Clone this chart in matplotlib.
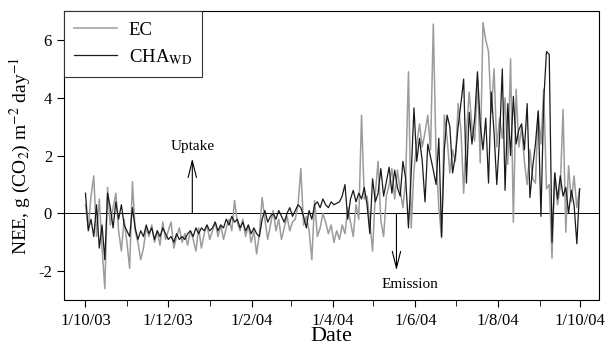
import numpy as np
import matplotlib
matplotlib.use("Agg")
import matplotlib.pyplot as plt
import matplotlib.dates as mdates
import datetime as dt

plt.rcParams['font.family'] = ['Liberation Serif', 'DejaVu Serif']
plt.rcParams['mathtext.fontset'] = 'stix'

start_date = "2003-10-01"
step_hours = 49

ec_oct = [0.3, -0.5, 0.6, 1.3, -0.8, 0.5, -1.2, -2.6, 0.9, -0.4, 0.2, 0.7, -0.6, -1.3, -0.2, -1.0]
ec_nov = [-1.9, 1.1, -0.6, -1.0, -1.6, -1.2, -0.5, -0.8, -0.4, -1.0, -0.6, -1.1, -0.3, -0.9, -0.6]
ec_dec = [-0.3, -1.2, -0.8, -0.5, -1.0, -0.7, -1.1, -0.6, -0.9, -1.3, -0.5, -1.2, -0.7, -0.4, -0.9]
ec_jan = [-0.6, -0.3, -0.8, -0.4, -0.9, -0.5, -0.2, -0.6, 0.45, -0.3, -0.6, -0.2, -0.8, -0.4, -1.0, -0.6]
ec_feb = [-1.4, -0.7, 0.55, -0.2, -0.9, -0.4, 0.1, -0.6, -0.2, -0.9, -0.5, -0.1, -0.6, -0.3]
ec_mar = [-0.2, 0.3, 1.55, -0.4, -0.1, -0.6, -1.6, 0.45, -0.8, -0.5, 0.0, -0.3, -0.7, -0.4, -1.0, -0.6]
ec_apr = [-0.9, -0.4, -0.7, 0.2, -0.3, -0.8, 0.3, -0.2, 3.4, 0.5, 0.6, -0.3, -1.3, 0.7, 1.8]
ec_may = [-0.25, -0.8, 0.6, 1.0, 1.55, 0.5, 1.5, 0.8, 0.2, 1.2, 4.9, -0.5, 1.5, 2.4, 3.1]
ec_jun = [2.3, 2.8, 3.4, 2.2, 6.55, 2.0, 0.2, -0.85, 3.4, 2.6, 1.4, 2.2, 1.8, 3.8, 2.9]
ec_jul = [0.7, 2.8, 4.2, 3.0, 2.5, 4.65, 1.75, 6.6, 6.0, 5.6, 3.5, 5.0, 2.3, 3.3, 2.6, 4.0]
ec_aug = [1.7, 5.35, -0.3, 4.3, 2.3, 3.0, 1.8, 1.0, 2.2, 1.2, 1.05, 3.5, 2.4, 4.3, 0.85]
ec_sep = [1.0, -1.55, 1.4, 0.3, 0.9, 3.6, -0.65, 1.65, 0.4, 1.3, 0.2, 0.85]

cha_oct = [0.7, -0.6, -0.2, -0.8, 0.3, -1.2, -0.4, -1.6, 0.7, 0.2, -0.5, 0.4, -0.2, 0.3, -0.4, -0.6]
cha_nov = [-0.8, 0.2, -0.5, -0.9, -0.6, -0.8, -0.4, -0.7, -0.5, -0.9, -0.6, -0.8, -0.5, -0.7, -0.9]
cha_dec = [-0.8, -1.0, -0.7, -0.9, -0.8, -0.9, -0.7, -0.6, -0.8, -0.5, -0.7, -0.5, -0.6, -0.4, -0.6]
cha_jan = [-0.5, -0.3, -0.6, -0.4, -0.5, -0.2, -0.4, -0.1, -0.3, -0.2, -0.5, -0.3, -0.6, -0.4, -0.7, -0.5]
cha_feb = [-0.7, -0.8, -0.2, 0.1, -0.3, -0.1, 0.0, -0.2, 0.1, -0.1, -0.3, 0.0, 0.2, -0.1]
cha_mar = [0.1, 0.3, 0.2, -0.1, -0.5, 0.1, -0.2, 0.3, 0.4, 0.2, 0.5, 0.3, 0.2, 0.4, 0.3, 0.35]
cha_apr = [0.4, 0.6, 1.0, -0.2, 0.5, 0.8, 0.4, 0.7, 0.5, 0.9, 0.3, -0.7, 1.2, 0.4, 0.7]
cha_may = [1.55, 0.6, 1.1, 1.6, 0.7, 1.5, 0.9, 0.6, 1.8, 1.2, -0.5, 1.4, 3.65, 1.8, 2.6]
cha_jun = [1.8, 0.4, 2.4, 1.95, 1.5, 1.0, 2.6, -0.8, 2.2, 3.4, 3.0, 1.4, 2.0, 3.0, 3.8]
cha_jul = [4.65, 1.05, 3.5, 2.4, 3.3, 4.9, 3.1, 2.2, 3.3, 1.05, 4.2, 2.8, 1.0, 2.6, 5.0, 0.8]
cha_aug = [3.8, 2.0, 4.05, 2.4, 2.9, 3.1, 2.2, 3.8, 0.55, 1.6, 2.4, 3.55, -0.1, 3.9, 5.6]
cha_sep = [5.5, -1.0, 1.4, 0.5, 1.3, 0.6, 0.9, 0.0, 0.8, 0.3, -1.05, 0.85]

ec = ec_oct + ec_nov + ec_dec + ec_jan + ec_feb + ec_mar + ec_apr + ec_may + ec_jun + ec_jul + ec_aug + ec_sep
cha = cha_oct + cha_nov + cha_dec + cha_jan + cha_feb + cha_mar + cha_apr + cha_may + cha_jun + cha_jul + cha_aug + cha_sep

tick_dates = ["2003-10-01", "2003-12-01", "2004-02-01", "2004-04-01", "2004-06-01", "2004-08-01", "2004-10-01"]
tick_labels = ["1/10/03", "1/12/03", "1/2/04", "1/4/04", "1/6/04", "1/8/04", "1/10/04"]
y_ticks = [-2, 0, 2, 4, 6]


def to_dates(n):
    d0 = dt.datetime.fromisoformat(start_date)
    return [d0 + dt.timedelta(hours=step_hours * i) for i in range(n)]


fig = plt.figure(figsize=(6.14, 3.47), dpi=100)
ax = fig.add_axes([0.104, 0.135, 0.872, 0.833])

ax.plot(to_dates(len(ec)), ec, color='#9c9c9c', lw=1.1, label='EC', zorder=2)
ax.plot(to_dates(len(cha)), cha, color='#1a1a1a', lw=0.9, label='CHA$_{\\mathrm{WD}}$', zorder=3)
ax.axhline(0, color='black', lw=0.7, zorder=1)

ax.set_xlim(dt.date(2003, 9, 15), dt.date(2004, 10, 15))
ax.set_ylim(-3, 7)
ax.set_yticks(y_ticks)
ax.set_yticklabels([str(v) for v in y_ticks], fontsize=12)

ax.set_xticks([dt.date.fromisoformat(s) for s in tick_dates])
ax.set_xticklabels(tick_labels, fontsize=12)
ax.xaxis.set_minor_locator(mdates.MonthLocator(bymonth=[11, 1, 3, 5, 7, 9]))
ax.tick_params(axis='x', which='major', length=5, width=0.8, pad=4)
ax.tick_params(axis='x', which='minor', length=4, width=0.6)
ax.tick_params(axis='y', length=5, width=0.8)

ax.set_xlabel('Date', fontsize=16, labelpad=-1)
ax.set_ylabel('NEE, g (CO$_2$) m$^{-2}$ day$^{-1}$', fontsize=14, labelpad=4)

for s in ax.spines.values():
    s.set_linewidth(0.8)

leg = ax.legend(loc='upper left', borderaxespad=0, fancybox=False, edgecolor='#333333',
                framealpha=1, fontsize=13.5, handlelength=2.3, labelspacing=0.45,
                borderpad=0.55, handletextpad=0.6)
leg.get_frame().set_linewidth(0.8)

arrow_style = '->,head_width=0.3,head_length=1.2'
up_date = dt.date(2003, 12, 19)
ax.annotate('', xy=(up_date, 1.9), xytext=(up_date, 0),
            arrowprops=dict(arrowstyle=arrow_style, lw=0.8, color='black', mutation_scale=10,
                            shrinkA=0, shrinkB=0))
ax.text(up_date, 2.3, 'Uptake', ha='center', va='center', fontsize=11)

em_date = dt.date(2004, 5, 18)
ax.annotate('', xy=(em_date, -1.97), xytext=(em_date, 0),
            arrowprops=dict(arrowstyle=arrow_style, lw=0.8, color='black', mutation_scale=10,
                            shrinkA=0, shrinkB=0))
ax.text(dt.date(2004, 5, 28), -2.45, 'Emission', ha='center', va='center', fontsize=11)

fig.savefig('out.png', dpi=100)
